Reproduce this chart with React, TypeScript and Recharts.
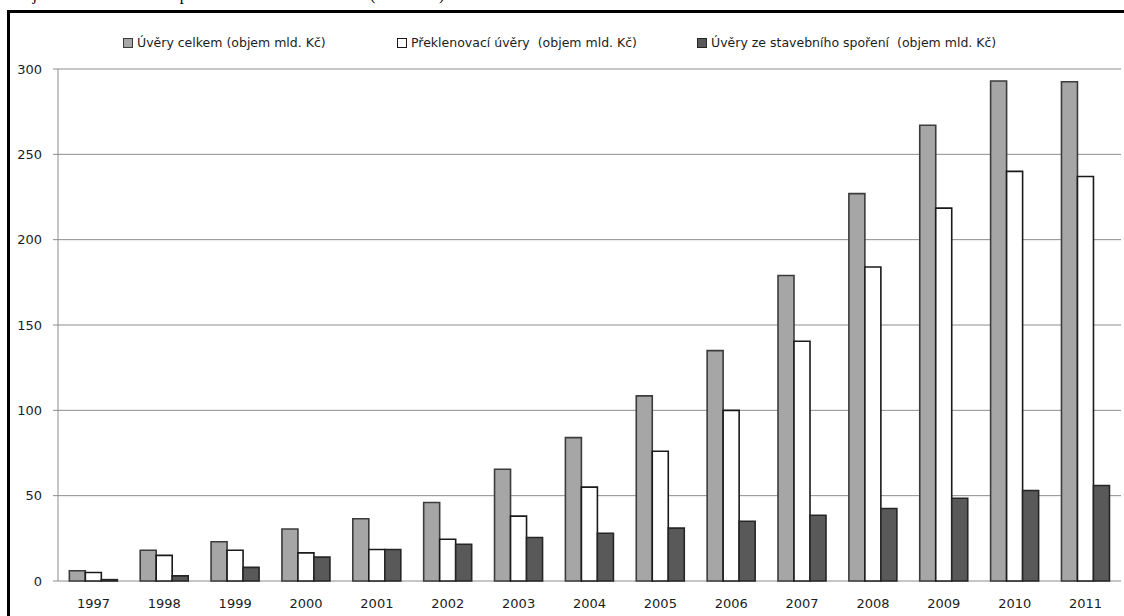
import React from "react";
import { BarChart, Bar, XAxis, YAxis, CartesianGrid } from "recharts";

const years = ["1997", "1998", "1999", "2000", "2001", "2002", "2003", "2004", "2005", "2006", "2007", "2008", "2009", "2010", "2011"];
const uveryCelkem = [6, 18, 23, 30.5, 36.5, 46, 65.5, 84, 108.5, 135, 179, 227, 267, 293, 292.5];
const preklenovaci = [5, 15, 18, 16.5, 18.5, 24.5, 38, 55, 76, 100, 140.5, 184, 218.5, 240, 237];
const zeStavebnihoSporeni = [0.8, 3, 8, 14, 18.5, 21.5, 25.5, 28, 31, 35, 38.5, 42.5, 48.5, 53, 56];
const yTicks = [0, 50, 100, 150, 200, 250, 300];
// category boundaries for the separator ticks under the x axis
const boundaries = years.map((_, i) => i).concat(years.length);

const data = years.map((rok, i) => ({
  rok,
  celkem: uveryCelkem[i],
  preklenovaci: preklenovaci[i],
  stavebni: zeStavebnihoSporeni[i],
}));

const series = [
  { key: "celkem", name: "Úvěry celkem (objem mld. Kč)", fill: "#a6a6a6", stroke: "#3c3c3c", left: 123 },
  { key: "preklenovaci", name: "Překlenovací úvěry  (objem mld. Kč)", fill: "#ffffff", stroke: "#1a1a1a", left: 397 },
  { key: "stavebni", name: "Úvěry ze stavebního spoření  (objem mld. Kč)", fill: "#595959", stroke: "#262626", left: 697 },
];

const font = "'DejaVu Sans', Verdana, sans-serif";
const textColor = "#1c1c1c";
const gridColor = "#8c8c8c";

export default function App() {
  return (
    <div style={{ position: "fixed", left: 0, top: 0, width: 1124, height: 616, overflow: "hidden", background: "#fff" }}>
      <div
        style={{
          position: "absolute",
          left: 13,
          top: -14,
          fontFamily: "'Liberation Serif', 'Times New Roman', serif",
          fontSize: 16,
          whiteSpace: "nowrap",
          color: "#000",
        }}
      >
        Objem úvěrů stavebních spořitelen v letech 1997–2011 (v mld. Kč)
      </div>
      <div
        style={{
          position: "absolute",
          left: 7,
          top: 10,
          width: 1300,
          height: 800,
          border: "3px solid #000",
        }}
      />
      {series.map((s) => (
        <div
          key={s.key}
          style={{
            position: "absolute",
            left: s.left,
            top: 35,
            display: "flex",
            alignItems: "center",
            fontFamily: font,
            fontSize: 12.5,
            color: textColor,
            whiteSpace: "pre",
          }}
        >
          <span
            style={{
              display: "inline-block",
              width: 8,
              height: 8,
              background: s.fill,
              border: `1px solid ${s.stroke}`,
              marginRight: 4,
            }}
          />
          {s.name}
        </div>
      ))}
      <div style={{ position: "absolute", left: 0, top: 0 }}>
        <BarChart
          width={1124}
          height={616}
          data={data}
          margin={{ top: 69, right: 3, left: 0, bottom: 0 }}
          barCategoryGap="16%"
          barGap={0}
        >
          <CartesianGrid vertical={false} stroke={gridColor} strokeWidth={1} />
          <XAxis
            xAxisId="sep"
            type="number"
            domain={[0, years.length]}
            ticks={boundaries}
            interval={0}
            height={0}
            tick={false}
            tickSize={6}
            axisLine={{ stroke: gridColor }}
            tickLine={{ stroke: gridColor }}
          />
          <XAxis
            dataKey="rok"
            height={35}
            axisLine={false}
            tickLine={false}
            tickSize={0}
            tickMargin={18}
            interval={0}
            tick={{ fontSize: 13, fill: textColor, fontFamily: font }}
          />
          <YAxis
            width={58}
            domain={[0, 300]}
            ticks={yTicks}
            interval={0}
            tickSize={5}
            tickMargin={11}
            axisLine={{ stroke: gridColor }}
            tickLine={{ stroke: gridColor }}
            tick={{ fontSize: 13, fill: textColor, fontFamily: font }}
          />
          {series.map((s) => (
            <Bar
              key={s.key}
              dataKey={s.key}
              name={s.name}
              fill={s.fill}
              stroke={s.stroke}
              strokeWidth={1.6}
              isAnimationActive={false}
            />
          ))}
        </BarChart>
      </div>
    </div>
  );
}
